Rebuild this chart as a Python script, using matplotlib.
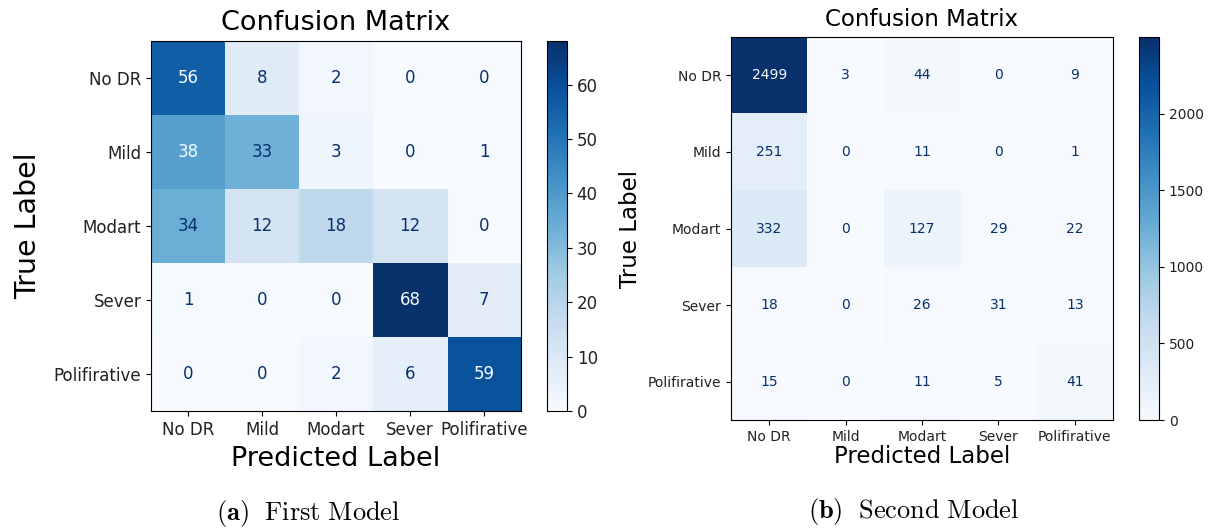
import numpy as np
import matplotlib
matplotlib.use('Agg')
import matplotlib.pyplot as plt

plt.rcParams['mathtext.fontset'] = 'cm'

# class names shared by both matrices
labels = ['No DR', 'Mild', 'Modart', 'Sever', 'Polifirative']

# first model counts (rows = true, cols = predicted)
cm_first = [
    [56, 8, 2, 0, 0],
    [38, 33, 3, 0, 1],
    [34, 12, 18, 12, 0],
    [1, 0, 0, 68, 7],
    [0, 0, 2, 6, 59],
]

# second model counts
cm_second = [
    [2499, 3, 44, 0, 9],
    [251, 0, 11, 0, 1],
    [332, 0, 127, 29, 22],
    [18, 0, 26, 31, 13],
    [15, 0, 11, 5, 41],
]

cbar_ticks_first = [0, 10, 20, 30, 40, 50, 60]
cbar_ticks_second = [0, 500, 1000, 1500, 2000]


def draw_cm(ax, cax, data, ticks, tick_fs, num_fs, title_fs, label_fs,
            ylabel_fs, xpad, ypad):
    data = np.array(data)
    cmap = plt.cm.Blues
    im = ax.imshow(data, cmap=cmap, aspect='auto', vmin=0, vmax=data.max())
    thresh = (data.max() + data.min()) / 2.0
    for i in range(data.shape[0]):
        for j in range(data.shape[1]):
            color = cmap(0.0) if data[i, j] > thresh else cmap(1.0)
            ax.text(j, i, str(data[i, j]), ha='center', va='center',
                    color=color, fontsize=num_fs)
    ax.set_xticks(range(len(labels)))
    ax.set_yticks(range(len(labels)))
    ax.set_xticklabels(labels, fontsize=tick_fs, color='#222222')
    ax.set_yticklabels(labels, fontsize=tick_fs, color='#222222')
    ax.set_title('Confusion Matrix', fontsize=title_fs, pad=8)
    ax.set_xlabel('Predicted Label', fontsize=label_fs, labelpad=xpad)
    ax.set_ylabel('True Label', fontsize=ylabel_fs, labelpad=ypad)
    cb = plt.colorbar(im, cax=cax, ticks=ticks)
    cb.ax.tick_params(labelsize=tick_fs, labelcolor='#222222')
    return im


fig = plt.figure(figsize=(12.12, 5.29), dpi=100)

ax1 = fig.add_axes([0.1246, 0.2231, 0.3053, 0.6994])
cax1 = fig.add_axes([0.4513, 0.2231, 0.0165, 0.6994])
draw_cm(ax1, cax1, cm_first, cbar_ticks_first, 12, 12, 19.5, 19.5, 20.5, 5, 8)

ax2 = fig.add_axes([0.6031, 0.2060, 0.3152, 0.7240])
cax2 = fig.add_axes([0.9398, 0.2060, 0.0165, 0.7240])
draw_cm(ax2, cax2, cm_second, cbar_ticks_second, 10, 10, 16.5, 16.5, 16.5, 1, 4)

# subfigure captions
fig.text(0.254, 0.030, r'$\mathbf{(a)}\ \ \mathrm{First\ Model}$', ha='center',
         va='center', fontsize=19)
fig.text(0.754, 0.034, r'$\mathbf{(b)}\ \ \mathrm{Second\ Model}$', ha='center',
         va='center', fontsize=19)

fig.savefig('out.png', dpi=100)
